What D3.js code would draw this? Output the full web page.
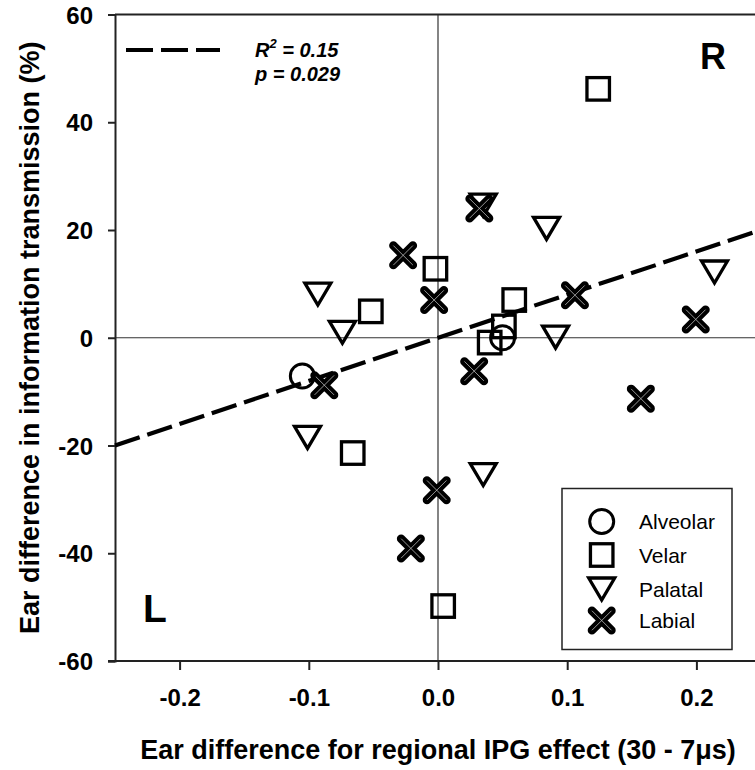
<!DOCTYPE html>
<html>
<head>
<meta charset="utf-8">
<script src="https://cdn.jsdelivr.net/npm/d3@7"></script>
<style>
  html, body { margin: 0; padding: 0; background: #fff; }
  svg { display: block; font-family: Arial, "Liberation Sans", Helvetica, sans-serif; }
</style>
</head>
<body>
<svg id="chart" width="755" height="770"></svg>
<script>
// ---- data ----
const alveolar = [[-0.105, -7.1], [0.050, 0.0]];
const velar = [[0.124, 46.2], [-0.002, 12.8], [-0.052, 4.9], [0.059, 7.0],
               [0.051, 2.1], [0.040, -0.9], [-0.066, -21.4], [0.004, -49.8]];
const palatal = [[-0.093, 8.1], [-0.074, 1.0], [-0.101, -18.5], [0.035, 24.6],
                 [0.084, 20.3], [0.214, 12.2], [0.091, 0.1], [0.035, -25.4]];
const labial = [[-0.027, 15.3], [-0.003, 7.0], [-0.088, -8.8], [0.032, 24.0],
                [0.106, 7.9], [0.1995, 3.4], [0.028, -6.2], [0.157, -11.3],
                [-0.001, -28.3], [-0.021, -39.1]];
const xTicks = [-0.2, -0.1, 0.0, 0.1, 0.2];
const yTicks = [-60, -40, -20, 0, 20, 40, 60];
const fitSlope = 80;      // regression line y = 80 x  (R^2 = 0.15)
const fitIntercept = 0;
const legendLabels = ["Alveolar", "Velar", "Palatal", "Labial"];

// ---- layout ----
const svg = d3.select("#chart");
const x = d3.scaleLinear().domain([-0.25, 0.25]).range([115, 761]);
const y = d3.scaleLinear().domain([-60, 60]).range([661, 14.5]);
const [x0, x1] = x.range();
const [yb, yt] = y.range();
const hyph = f => v => f(v).replace("\u2212", "-");

// zero reference lines
svg.append("line").attr("x1", x(0)).attr("x2", x(0)).attr("y1", yt).attr("y2", yb)
  .attr("stroke", "#333").attr("stroke-width", 1.2);
svg.append("line").attr("x1", x0).attr("x2", x1).attr("y1", y(0)).attr("y2", y(0))
  .attr("stroke", "#333").attr("stroke-width", 1.2);

// top frame
svg.append("line").attr("x1", x0).attr("x2", x1).attr("y1", yt).attr("y2", yt)
  .attr("stroke", "#222").attr("stroke-width", 2);

// axes
const yAxis = svg.append("g").attr("transform", `translate(${x0},0)`)
  .call(d3.axisLeft(y).tickValues(yTicks).tickSize(7).tickPadding(15).tickFormat(hyph(d3.format("d"))));
const xAxis = svg.append("g").attr("transform", `translate(0,${yb})`)
  .call(d3.axisBottom(x).tickValues(xTicks).tickSize(9).tickPadding(19).tickFormat(hyph(d3.format(".1f"))));
[xAxis, yAxis].forEach(g => {
  g.select(".domain").attr("stroke", "#222").attr("stroke-width", 2);
  g.selectAll(".tick line").attr("stroke", "#222").attr("stroke-width", 2);
  g.selectAll(".tick text").attr("fill", "#000").style("font-size", "24px").style("font-weight", "bold");
});
xAxis.select(".domain").attr("d", `M${x0 - 7},0H${x1}`);
yAxis.selectAll(".tick text").attr("dy", "0.36em");
xAxis.selectAll(".tick text").attr("dy", "0.71em");

// axis titles
svg.append("text").attr("x", 438).attr("y", 759).attr("text-anchor", "middle")
  .style("font-size", "27px").style("font-weight", "bold")
  .text("Ear difference for regional IPG effect (30 - 7\u03BCs)");
svg.append("text").attr("transform", `translate(39,${(yt + yb) / 2}) rotate(-90)`)
  .attr("text-anchor", "middle").style("font-size", "27px").style("font-weight", "bold")
  .text("Ear difference in information transmission (%)");

// regression line
const fit = d3.line().x(d => x(d)).y(d => y(fitSlope * d + fitIntercept));
svg.append("path").datum([-0.25, 0.25]).attr("d", fit)
  .attr("fill", "none").attr("stroke", "#000").attr("stroke-width", 4.2)
  .attr("stroke-dasharray", "26,8");

// quadrant letters
svg.append("text").attr("x", 700).attr("y", 69).style("font-size", "36px").style("font-weight", "bold").text("R");
svg.append("text").attr("x", 143).attr("y", 622).style("font-size", "39px").style("font-weight", "bold").text("L");

// fit legend
svg.append("line").attr("x1", 126).attr("x2", 220).attr("y1", 50).attr("y2", 50)
  .attr("stroke", "#000").attr("stroke-width", 4.2).attr("stroke-dasharray", "27,8");
const r2 = svg.append("text").attr("x", 255).attr("y", 57)
  .style("font-size", "20px").style("font-weight", "bold").style("font-style", "italic");
r2.append("tspan").text("R");
r2.append("tspan").attr("dy", -9).style("font-size", "13px").text("2");
r2.append("tspan").attr("dy", 9).text(" = 0.15");
svg.append("text").attr("x", 255).attr("y", 81)
  .style("font-size", "20px").style("font-weight", "bold").style("font-style", "italic")
  .text("p = 0.029");

// ---- marker drawers ----
function drawCircle(g, cx, cy, r) {
  g.append("circle").attr("cx", cx).attr("cy", cy).attr("r", r)
    .attr("fill", "none").attr("stroke", "#000").attr("stroke-width", 3);
}
function drawSquare(g, cx, cy, s) {
  g.append("rect").attr("x", cx - s / 2).attr("y", cy - s / 2).attr("width", s).attr("height", s)
    .attr("fill", "none").attr("stroke", "#000").attr("stroke-width", 3.3);
}
function drawTriangle(g, cx, cy, w, h) {
  g.append("path").attr("d", `M${cx - w / 2},${cy - h / 2}L${cx + w / 2},${cy - h / 2}L${cx},${cy + h / 2}Z`)
    .attr("fill", "none").attr("stroke", "#000").attr("stroke-width", 3.3).attr("stroke-linejoin", "miter");
}
function drawX(g, cx, cy, s) {
  const h = s / 2;
  const p = `M${cx - h},${cy - h}L${cx + h},${cy + h}M${cx + h},${cy - h}L${cx - h},${cy + h}`;
  g.append("path").attr("d", p).attr("stroke", "#000").attr("stroke-width", 8.5).attr("stroke-linecap", "round");
  g.append("path").attr("d", p).attr("stroke", "#bbb").attr("stroke-width", 0.8);
}

const pts = svg.append("g");
velar.forEach(d => drawSquare(pts, x(d[0]), y(d[1]), 22.5));
palatal.forEach(d => drawTriangle(pts, x(d[0]), y(d[1]), 26, 22));
labial.forEach(d => drawX(pts, x(d[0]), y(d[1]), 19.5));
alveolar.forEach(d => drawCircle(pts, x(d[0]), y(d[1]), 12));

// ---- legend ----
const lg = svg.append("g");
lg.append("rect").attr("x", 562).attr("y", 488.5).attr("width", 170).attr("height", 161)
  .attr("fill", "#fff").attr("stroke", "#222").attr("stroke-width", 1.5);
const ly = [521.5, 555, 589, 620.5];
drawCircle(lg, 601.7, ly[0], 12);
drawSquare(lg, 601.7, ly[1], 22.5);
drawTriangle(lg, 601.7, ly[2], 26, 22);
drawX(lg, 601.7, ly[3], 19.5);
legendLabels.forEach((t, i) => {
  lg.append("text").attr("x", 639).attr("y", ly[i] + 7.5).style("font-size", "21px").text(t);
});
</script>
</body>
</html>
